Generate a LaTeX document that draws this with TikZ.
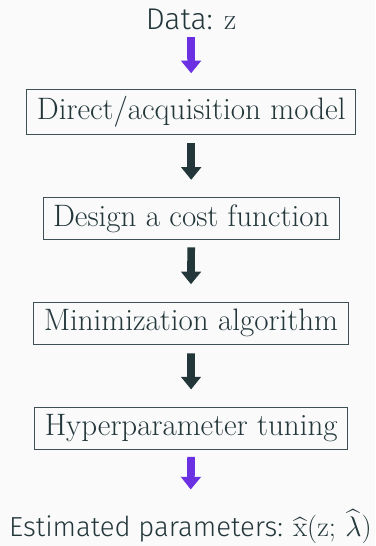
\RequirePackage{fix-cm}
\documentclass[tikz,border=0pt]{standalone}
\usepackage{amsmath}
\usepackage{fontspec}
\setsansfont{Fira Sans Light}
\usetikzlibrary{arrows.meta}
\definecolor{pagebg}{HTML}{FAFAFA}
\definecolor{dteal}{HTML}{23373B}
\definecolor{framec}{HTML}{3E5054}
\definecolor{violetc}{HTML}{6A30E2}
\tikzset{
  stage/.style={draw=framec, line width=0.9pt, text=dteal,
    font=\fontsize{31}{35}\selectfont\rmfamily, inner xsep=10pt, inner ysep=7pt},
  caption/.style={text=dteal, inner sep=0pt, anchor=base},
  flow/.style={line width=7.7pt, -{Triangle[length=12.6pt,width=19.5pt]}},
  flowdark/.style={flow, draw=dteal},
  flowviolet/.style={flow, draw=violetc}
}
\begin{document}
\begin{tikzpicture}[x=1pt,y=-1pt]
  \fill[pagebg] (0,0) rectangle (375,546);
  \useasboundingbox (0,0) rectangle (375,546);

  % input and output captions
  \node[caption, font=\fontsize{30}{33}\selectfont\sffamily] (data) at (191,29) {Data: $\mathrm{z}$};
  \node[caption, font=\fontsize{27.5}{30}\selectfont\sffamily] (est) at (190.5,536.7)
    {Estimated parameters: {\fontsize{28.5}{31}\selectfont$\widehat{\mathrm{x}}(\mathrm{z};\,\widehat{\lambda})$}};

  % processing stages
  \node[stage] (model) at (191.2,112.2) {Direct/acquisition model};
  \node[stage] (cost)  at (191.2,218.6) {Design a cost function};
  \node[stage] (minim) at (190.9,323.3) {Minimization algorithm};
  \node[stage] (hyper) at (191.2,428.3) {Hyperparameter tuning};

  % flow arrows
  \draw[flowviolet, shorten <=7.7pt, shorten >=16pt] (data.south)  -- (model.north);
  \draw[flowdark,   shorten <=7.7pt, shorten >=17.3pt] (model.south) -- (cost.north);
  \draw[flowdark,   shorten <=7.3pt, shorten >=17.7pt] (cost.south)  -- (minim.north);
  \draw[flowdark,   shorten <=8.7pt, shorten >=17.7pt] (minim.south) -- (hyper.north);
  \draw[flowviolet, shorten <=7.4pt, shorten >=20pt] (hyper.south) -- (est.north);
\end{tikzpicture}
\end{document}
